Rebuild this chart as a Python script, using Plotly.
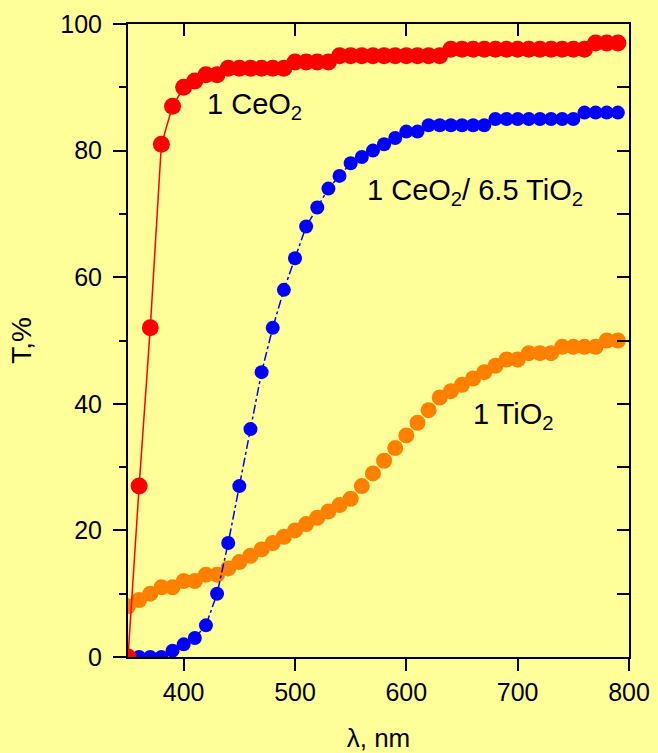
import plotly.graph_objects as go

wavelength = list(range(350, 800, 10))

t_ceo2 = [0, 27, 52, 81, 87, 90, 91, 92, 92, 93,
          93, 93, 93, 93, 93, 94, 94, 94, 94, 95,
          95, 95, 95, 95, 95, 95, 95, 95, 95, 96,
          96, 96, 96, 96, 96, 96, 96, 96, 96, 96,
          96, 96, 97, 97, 97]

t_ceo2_tio2 = [0, 0, 0, 0, 1, 2, 3, 5, 10, 18,
               27, 36, 45, 52, 58, 63, 68, 71, 74, 76,
               78, 79, 80, 81, 82, 83, 83, 84, 84, 84,
               84, 84, 84, 85, 85, 85, 85, 85, 85, 85,
               85, 86, 86, 86, 86]

t_tio2 = [8, 9, 10, 11, 11, 12, 12, 13, 13, 14,
          15, 16, 17, 18, 19, 20, 21, 22, 23, 24,
          25, 27, 29, 31, 33, 35, 37, 39, 41, 42,
          43, 44, 45, 46, 47, 47, 48, 48, 48, 49,
          49, 49, 49, 50, 50]

x_ticks = [400, 500, 600, 700, 800]
y_ticks = [0, 20, 40, 60, 80, 100]

labels = ["1 CeO<sub>2</sub>", "1 CeO<sub>2</sub>/ 6.5 TiO<sub>2</sub>", "1 TiO<sub>2</sub>"]
label_x = [419, 563, 658]
label_y = [87, 73.5, 38]

FONT = "Arial, Liberation Sans, sans-serif"
BG = "#FFFF99"

fig = go.Figure()

fig.add_trace(go.Scatter(x=wavelength, y=t_tio2, mode="markers",
                         marker=dict(color="#FF8000", size=16),
                         showlegend=False))
fig.add_trace(go.Scatter(x=wavelength, y=t_ceo2_tio2, mode="lines+markers",
                         line=dict(color="#0000FF", width=1.5, dash="dashdot"),
                         marker=dict(color="#0000FF", size=14),
                         showlegend=False))
fig.add_trace(go.Scatter(x=wavelength, y=t_ceo2, mode="lines+markers",
                         line=dict(color="#FF0000", width=1.5),
                         marker=dict(color="#FF0000", size=17),
                         showlegend=False))
# invisible trace to activate the mirrored (top/right) axes
fig.add_trace(go.Scatter(x=[350], y=[0], xaxis="x2", yaxis="y2", mode="markers",
                         marker=dict(opacity=0), hoverinfo="skip", showlegend=False))

for txt, lx, ly in zip(labels, label_x, label_y):
    fig.add_annotation(x=lx, y=ly, xref="x", yref="y", text=txt, showarrow=False,
                       xanchor="left", yanchor="middle",
                       font=dict(family=FONT, size=29, color="black"))

fig.update_layout(
    width=658, height=753,
    margin=dict(l=128, r=29, t=24, b=96),
    paper_bgcolor=BG, plot_bgcolor=BG,
    font=dict(family=FONT, size=25, color="black"),
    xaxis=dict(range=[350, 800], tickvals=x_ticks, ticks="outside", ticklen=12,
               tickwidth=2, tickcolor="black", showline=True, linewidth=2,
               linecolor="black", mirror=True, showgrid=False, zeroline=False,
               tickfont=dict(size=25), automargin=False,
               title=dict(text="λ, nm", font=dict(size=26), standoff=24)),
    yaxis=dict(range=[0, 100], tickvals=y_ticks, ticks="outside", ticklen=13,
               tickwidth=2, tickcolor="black", showline=True, linewidth=2,
               linecolor="black", mirror=True, showgrid=False, zeroline=False,
               tickfont=dict(size=25), automargin=False, ticklabelstandoff=6,
               minor=dict(dtick=10, tick0=0, ticks="outside", ticklen=7,
                          tickwidth=2, tickcolor="black", showgrid=False),
               title=dict(text="T,%", font=dict(size=28), standoff=20)),
    xaxis2=dict(range=[350, 800], overlaying="x", side="top", tickvals=x_ticks,
                ticks="inside", ticklen=12, tickwidth=2, tickcolor="black",
                showticklabels=False, showline=False, showgrid=False, zeroline=False,
                automargin=False),
    yaxis2=dict(range=[0, 100], overlaying="y", side="right", dtick=10, tick0=0,
                ticks="inside", ticklen=12, tickwidth=2, tickcolor="black",
                showticklabels=False, showline=False, showgrid=False, zeroline=False,
                automargin=False),
)

fig.write_html("out.html", config={"displayModeBar": False},
               post_script="document.body.style.margin='0';")
